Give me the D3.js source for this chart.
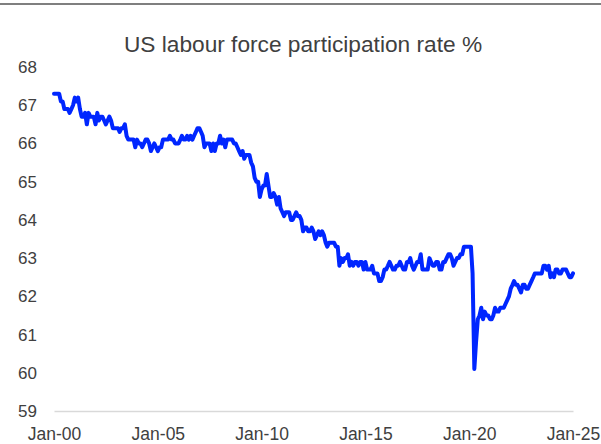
<!DOCTYPE html>
<html>
<head>
<meta charset="utf-8">
<script src="https://cdn.jsdelivr.net/npm/d3@7/dist/d3.min.js"></script>
<style>
  html, body { margin: 0; padding: 0; background: #fff; }
  svg { display: block; font-family: Arial, "Liberation Sans", sans-serif; }
</style>
</head>
<body>
<svg id="chart" width="601" height="444"></svg>
<script>
// Monthly US labour force participation rate (%), Jan 2000 onward
const startYear = 2000;
const participation = [
  // 2000
  67.3, 67.3, 67.3, 67.3, 67.1, 67.1, 66.9, 66.9, 66.9, 66.8, 66.9, 67.0,
  // 2001
  67.2, 67.1, 67.2, 66.9, 66.7, 66.7, 66.8, 66.5, 66.8, 66.7, 66.7, 66.7,
  // 2002
  66.5, 66.8, 66.6, 66.7, 66.7, 66.6, 66.5, 66.6, 66.7, 66.6, 66.4, 66.4,
  // 2003
  66.4, 66.4, 66.3, 66.4, 66.4, 66.5, 66.2, 66.1, 66.1, 66.1, 66.1, 65.9,
  // 2004
  66.1, 66.0, 66.0, 65.9, 66.0, 66.1, 66.1, 66.0, 65.8, 65.9, 66.0, 65.9,
  // 2005
  65.8, 65.9, 65.9, 66.1, 66.1, 66.1, 66.1, 66.2, 66.1, 66.1, 66.0, 66.0,
  // 2006
  66.0, 66.1, 66.2, 66.1, 66.1, 66.2, 66.1, 66.2, 66.1, 66.2, 66.3, 66.4,
  // 2007
  66.4, 66.3, 66.2, 65.9, 66.0, 66.0, 66.0, 65.8, 66.0, 65.8, 66.0, 66.0,
  // 2008
  66.2, 66.0, 66.1, 65.9, 66.1, 66.1, 66.1, 66.1, 66.0, 66.0, 65.9, 65.8,
  // 2009
  65.7, 65.8, 65.6, 65.7, 65.7, 65.7, 65.5, 65.4, 65.1, 65.0, 65.0, 64.6,
  // 2010
  64.8, 64.9, 64.9, 65.2, 64.9, 64.6, 64.6, 64.7, 64.6, 64.4, 64.6, 64.3,
  // 2011
  64.2, 64.1, 64.2, 64.2, 64.2, 64.0, 64.0, 64.1, 64.2, 64.1, 64.1, 64.0,
  // 2012
  63.7, 63.8, 63.8, 63.7, 63.7, 63.8, 63.7, 63.5, 63.6, 63.7, 63.6, 63.7,
  // 2013
  63.6, 63.4, 63.3, 63.4, 63.4, 63.4, 63.4, 63.3, 63.3, 62.8, 63.0, 62.9,
  // 2014
  63.0, 63.0, 63.1, 62.8, 62.9, 62.8, 62.9, 62.9, 62.8, 62.9, 62.9, 62.7,
  // 2015
  62.9, 62.7, 62.7, 62.7, 62.8, 62.6, 62.6, 62.6, 62.4, 62.4, 62.5, 62.7,
  // 2016
  62.7, 62.8, 62.9, 62.8, 62.7, 62.7, 62.8, 62.8, 62.9, 62.8, 62.7, 62.7,
  // 2017
  62.9, 62.9, 63.0, 62.8, 62.7, 62.8, 62.9, 62.9, 63.1, 62.7, 62.7, 62.7,
  // 2018
  62.7, 63.0, 62.9, 62.8, 62.8, 62.9, 62.9, 62.7, 62.7, 62.9, 62.9, 63.0,
  // 2019
  63.1, 63.1, 63.0, 62.8, 62.9, 63.0, 63.0, 63.1, 63.1, 63.3, 63.3, 63.3,
  // 2020
  63.3, 63.3, 62.6, 60.1, 60.8, 61.4, 61.5, 61.7, 61.4, 61.6, 61.5, 61.5,
  // 2021
  61.4, 61.4, 61.5, 61.7, 61.6, 61.6, 61.7, 61.7, 61.7, 61.8, 61.9, 62.0,
  // 2022
  62.2, 62.3, 62.4, 62.3, 62.3, 62.2, 62.1, 62.3, 62.3, 62.2, 62.2, 62.3,
  // 2023
  62.4, 62.5, 62.6, 62.6, 62.6, 62.6, 62.6, 62.8, 62.8, 62.7, 62.8, 62.5,
  // 2024
  62.6, 62.5, 62.7, 62.7, 62.6, 62.6, 62.7, 62.7, 62.7, 62.6, 62.5, 62.5,
  // 2025
  62.6
];

const yTicks = [59, 60, 61, 62, 63, 64, 65, 66, 67, 68];
const xTickYears = [2000, 2005, 2010, 2015, 2020, 2025];
const titleText = "US labour force participation rate %";

const series = participation.map((v, i) => ({
  date: new Date(startYear, i, 1),
  value: v
}));

const svg = d3.select("#chart");
const textColor = "#404040";

// Thin rule across the top of the frame
svg.append("line")
  .attr("x1", 0).attr("x2", 601)
  .attr("y1", 4).attr("y2", 4)
  .attr("stroke", "#7f7f7f")
  .attr("stroke-width", 2);

const x = d3.scaleTime()
  .domain([new Date(2000, 0, 1), new Date(2025, 0, 1)])
  .range([54, 573]);

const y = d3.scaleLinear()
  .domain([59, 68])
  .range([411, 67]);

// Title
svg.append("text")
  .attr("x", 303)
  .attr("y", 52)
  .attr("text-anchor", "middle")
  .attr("fill", textColor)
  .style("font-size", "22.7px")
  .text(titleText);

// Y axis: labels only
const yAxis = d3.axisLeft(y)
  .tickValues(yTicks)
  .tickFormat(d3.format("d"))
  .tickSize(0)
  .tickPadding(0);

const gy = svg.append("g")
  .attr("transform", "translate(37,0)")
  .call(yAxis);
gy.select(".domain").remove();
gy.selectAll("text")
  .attr("fill", textColor)
  .style("font-size", "17px")
  .style("font-family", "Arial, 'Liberation Sans', sans-serif");

// X axis: baseline rule at the bottom of the value range, date labels below
const xAxis = d3.axisBottom(x)
  .tickValues(xTickYears.map(yr => new Date(yr, 0, 1)))
  .tickFormat(d3.timeFormat("Jan-%y"))
  .tickSize(0)
  .tickPadding(17);

const gx = svg.append("g")
  .attr("transform", `translate(0,${y(59)})`)
  .call(xAxis);
gx.select(".domain")
  .attr("stroke", "#d9d9d9")
  .attr("stroke-width", 1.5);
gx.selectAll("text")
  .attr("fill", textColor)
  .style("font-size", "17.5px")
  .style("font-family", "Arial, 'Liberation Sans', sans-serif");

// Participation rate line
const line = d3.line()
  .x(d => x(d.date))
  .y(d => y(d.value));

svg.append("path")
  .datum(series)
  .attr("fill", "none")
  .attr("stroke", "#0026ff")
  .attr("stroke-width", 4)
  .attr("stroke-linejoin", "round")
  .attr("stroke-linecap", "round")
  .attr("d", line);
</script>
</body>
</html>
